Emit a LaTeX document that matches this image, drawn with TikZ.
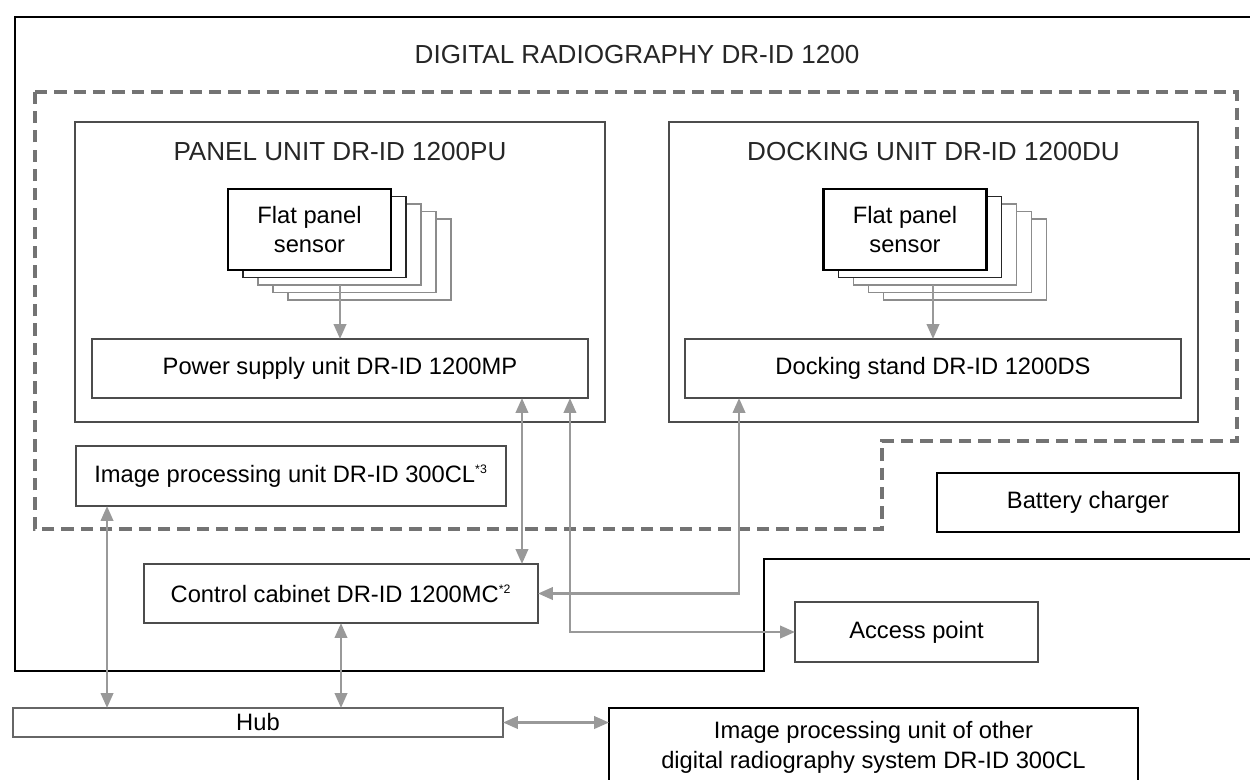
\documentclass[tikz,border=0pt]{standalone}
\usepackage{fontspec}
\setmainfont{Liberation Sans}
\usetikzlibrary{arrows.meta}

\begin{document}
\begin{tikzpicture}[x=0.02cm,y=-0.02cm,
    box/.style = {rectangle,draw=black!70,line width=0.8pt,fill=white,inner sep=0pt,outer sep=0pt,align=center,font=\fontsize{13.5}{17}\selectfont},
    sensor/.style = {box,line width=1pt,minimum width=3.26cm,minimum height=1.62cm},
    head/.style = {text=black!85,font=\fontsize{14.85}{17}\selectfont},
    link/.style = {draw=black!40,line width=1.6pt,{Triangle[length=8.5pt,width=7pt]}-{Triangle[length=8.5pt,width=7pt]}},
    feed/.style = {draw=black!40,line width=1.6pt,-{Triangle[length=8.5pt,width=7pt]}}]
\clip (0,0) rectangle (1250,779);
% system border and dashed group
\draw[line width=1.4pt] (1250,17) -- (15,17) -- (15,671) -- (764,671) -- (764,559) -- (1250,559);
\draw[draw=black!55,line width=2pt,dash pattern=on 7pt off 4pt] (35,92) -- (1237,92) -- (1237,441) -- (882,441) -- (882,529) -- (35,529) -- cycle;
\node[head] (title) at (637,55) {DIGITAL RADIOGRAPHY DR-ID 1200};

% panel unit
\node[box,minimum width=10.6cm,minimum height=6cm] (panelunit) at (340,272) {};
\node[head] (putitle) at (340,152) {PANEL UNIT DR-ID 1200PU};
\foreach \i/\c in {4/black!45,3/black!45,2/black!45,1/black!85} \node[sensor,draw=\c] (sensL\i) at (309.5+15*\i, 229.5+7.5*\i) {};
\node[sensor,draw=black,line width=1.2pt] (sensL0) at (309.5,229.5) {Flat panel\\sensor};
\node[box,minimum width=9.92cm,minimum height=1.18cm] (power) at (340,368.5) {Power supply unit DR-ID 1200MP};

% docking unit
\node[box,minimum width=10.58cm,minimum height=6cm] (dockunit) at (933.5,272) {};
\node[head] (dutitle) at (933.5,152) {DOCKING UNIT DR-ID 1200DU};
\foreach \i/\c in {4/black!45,3/black!45,2/black!45,1/black!85} \node[sensor,draw=\c] (sensR\i) at (905+15*\i, 229.5+7.5*\i) {};
\node[sensor,draw=black,line width=1.2pt] (sensR0) at (905,229.5) {Flat panel\\sensor};
\node[box,minimum width=9.92cm,minimum height=1.18cm] (stand) at (933,368.5) {Docking stand DR-ID 1200DS};

% other units
\node[box,minimum width=8.6cm,minimum height=1.2cm] (imgproc) at (291,476) {Image processing unit DR-ID 300CL\textsuperscript{\fontsize{7}{7}\selectfont *3}};
\node[box,draw=black,minimum width=6.04cm,minimum height=1.18cm] (battery) at (1088,502.5) {Battery charger};
\node[box,minimum width=7.88cm,minimum height=1.18cm] (cabinet) at (341,593.5) {Control cabinet DR-ID 1200MC\textsuperscript{\fontsize{7}{7}\selectfont *2}};
\node[box,minimum width=4.86cm,minimum height=1.2cm] (access) at (916.5,632) {Access point};
\node[box,draw=black!60,minimum width=9.8cm,minimum height=0.58cm] (hub) at (258,722.5) {Hub};
\node[box,draw=black,minimum width=10.58cm,minimum height=1.56cm] (other) at (873.5,747) {Image processing unit of other\\digital radiography system DR-ID 300CL};

% connections
\draw[feed] (power.north |- sensL2.south) -- (power.north);
\draw[feed] (stand.north |- sensR2.south) -- (stand.north);
\draw[link] ([xshift=-1.32cm]power.south east) -- ([xshift=-1.32cm]power.south east |- cabinet.north);
\draw[link] ([xshift=-0.36cm]power.south east) |- (access.west);
\draw[link] ([xshift=1.08cm]stand.south west) |- (cabinet.east);
\draw[link] ([xshift=0.62cm]imgproc.south west) -- ([xshift=0.62cm]imgproc.south west |- hub.north);
\draw[link] (cabinet.south) -- (cabinet.south |- hub.north);
\draw[link] (hub.east) -- (hub.east -| other.west);
\end{tikzpicture}
\end{document}
